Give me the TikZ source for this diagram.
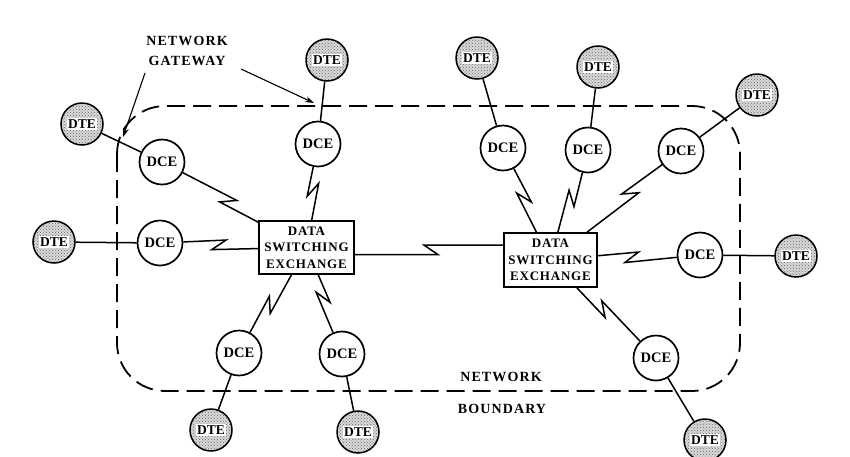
\documentclass[tikz,border=0pt]{standalone}
\usepackage{fontspec}
\setmainfont{Liberation Serif}
\newfontfamily\trkA[LetterSpace=6]{Liberation Serif}
\newfontfamily\trkB[LetterSpace=8]{Liberation Serif}
\usetikzlibrary{calc,patterns,arrows.meta}
\tikzset{
 dce/.style={circle,draw,line width=1.7pt,fill=white,minimum size=45pt,inner sep=0pt,font=\bfseries\fontsize{14.5}{14.5}\selectfont},
 dte/.style={circle,draw,line width=1.5pt,minimum size=42pt,inner sep=0pt,preaction={fill=gray!30},pattern=crosshatch dots,pattern color=black!60},
 dtelbl/.style={fill=white,inner sep=1.2pt,font=\bfseries\fontsize{13.5}{13.5}\selectfont},
 dse/.style={draw,line width=1.7pt,fill=white,minimum width=95pt,minimum height=53pt,align=center,inner sep=0pt,font=\trkA\bfseries\fontsize{13}{16.7}\selectfont},
 link/.style={line width=1.5pt},
 bound/.style={line width=1.8pt,dash pattern=on 18pt off 8pt,rounded corners=48pt},
 lbl/.style={font=\trkB\bfseries\fontsize{14}{19.5}\selectfont,align=center,inner sep=0pt},
 gwarrow/.style={line width=1.1pt,-{Stealth[length=9pt,width=6pt]}}
}
% bolt: from, to, fraction, side angle, back angle
\newcommand\bolt[5]{%
 \coordinate (bm) at ($(#1)!#3!(#2)$);
 \draw[link] (#1) -- ($(bm)!5pt!#4:(#2)$) -- ($(bm)!14.87pt!#5:(#2)$) -- (#2);
}
\begin{document}
\begin{tikzpicture}[x=1pt,y=-1pt]
\useasboundingbox (0,0) rectangle (850,456);
\fill[white] (0,0) rectangle (850,456);
% boundary
\draw[bound] (117,106) rectangle (740,391);
% exchanges
\node[dse] (ex1) at (306.5,247.5) {DATA\\SWITCHING\\EXCHANGE};
\node[dse,minimum width=93pt,minimum height=54pt] (ex2) at (550.5,260) {DATA\\SWITCHING\\EXCHANGE};
% DCEs
\node[dce] (c1) at (162,162) {DCE};
\node[dce] (c2) at (318,144) {DCE};
\node[dce] (c3) at (160,243) {DCE};
\node[dce] (c4) at (239,353) {DCE};
\node[dce] (c5) at (342,354) {DCE};
\node[dce] (c6) at (503,148) {DCE};
\node[dce] (c7) at (588,150) {DCE};
\node[dce] (c8) at (681,151) {DCE};
\node[dce] (c9) at (700,255) {DCE};
\node[dce] (c10) at (656,358) {DCE};
% DTEs
\foreach \n/\p in {t1/{(82,124)},t2/{(327,60)},t3/{(54,242)},t4/{(211,430)},t5/{(358,432)},t6/{(477,58)},t7/{(598,67)},t8/{(757,95)},t9/{(796,256)},t10/{(705,440)}}{
 \node[dte] (\n) at \p {};
 \node[dtelbl] (\n l) at (\n) {DTE};
}
% DTE - DCE lines
\draw[link] (t1) -- (c1);
\draw[link] (t2) -- (c2);
\draw[link] (t3) -- (c3);
\draw[link] (t4) -- (c4);
\draw[link] (t5) -- (c5);
\draw[link] (t6) -- (c6);
\draw[link] (t7) -- (c7);
\draw[link] (t8) -- (c8);
\draw[link] (t9) -- (c9);
\draw[link] (t10) -- (c10);
% lightning links
\bolt{c1}{ex1}{0.5}{90}{199.65}
\bolt{c2}{ex1}{0.51}{-90}{160.35}
\draw[link] ($(ex1.east)+(0,7)$) -- ++(83,0) -- ++(-14,-9.5) -- ($(ex2.west)+(0,-15)$);
\bolt{c3}{ex1}{0.45}{90}{199.65}
\bolt{ex1}{c4}{0.6}{90}{199.65}
\bolt{ex1}{c5}{0.53}{90}{199.65}
\bolt{c6}{ex2}{0.5}{90}{199.65}
\bolt{c7}{ex2}{0.5}{90}{199.65}
\bolt{c8}{ex2}{0.43}{-90}{160.35}
\bolt{ex2}{c9}{0.59}{90}{199.65}
\bolt{ex2}{c10}{0.55}{-90}{160.35}
% labels
\node[lbl] (gw) at (187,51) {NETWORK\\GATEWAY};
\node[lbl] (nb1) at (501,377) {NETWORK};
\node[lbl] (nb2) at (502,409) {BOUNDARY};
\coordinate (g1s) at (145,73);
\coordinate (g1e) at (123,137);
\coordinate (g2s) at (241,69);
\coordinate (g2e) at (314,103);
\draw[gwarrow] (g1s) -- (g1e);
\draw[gwarrow] (g2s) -- (g2e);
\end{tikzpicture}
\end{document}
